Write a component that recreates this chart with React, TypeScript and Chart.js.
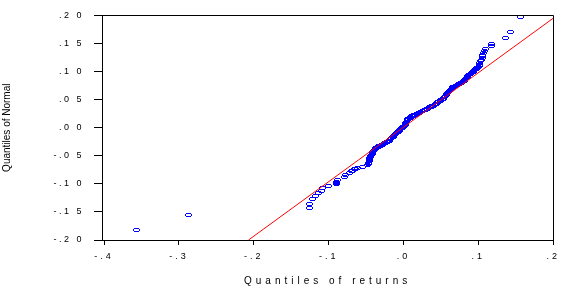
import React, { useEffect, useRef } from "react";
import { Chart, registerables } from "chart.js";
Chart.register(...registerables);

// Axis ticks
const xTickValues = [-0.4, -0.3, -0.2, -0.1, 0, 0.1, 0.2];
const xTickLabels = ["-.4", "-.3", "-.2", "-.1", ".0", ".1", ".2"];
const yTickValues = [-0.2, -0.15, -0.1, -0.05, 0, 0.05, 0.1, 0.15, 0.2];
const yTickLabels = ["-.2 0", "-.1 5", "-.1 0", "-.0 5", ".0 0", ".0 5", ".1 0", ".1 5", ".2 0"];

// Q-Q points: quantiles of returns (x) vs quantiles of normal (y)
const returnsQ = [
  // lower tail
  -0.356, -0.287, -0.126, -0.125, -0.121, -0.117, -0.114, -0.11, -0.108, -0.1,
  -0.089, -0.089, -0.089, -0.088, -0.079, -0.077, -0.072, -0.07, -0.068, -0.066,
  -0.064, -0.061, -0.055, -0.048,
  // steep lower section
  -0.048, -0.047, -0.047, -0.046, -0.046, -0.045, -0.045, -0.044, -0.044, -0.043,
  -0.042, -0.042, -0.041, -0.04, -0.039, -0.038, -0.037,
  // towards zero
  -0.036, -0.035, -0.034, -0.033, -0.032, -0.031, -0.03, -0.028, -0.027, -0.025,
  -0.024, -0.023, -0.022, -0.02, -0.019, -0.018, -0.017, -0.016, -0.015, -0.014,
  -0.013, -0.012, -0.011, -0.01, -0.009, -0.008, -0.007, -0.006, -0.005, -0.004,
  -0.003, -0.002, -0.001,
  // steep near zero
  0.001, 0.002, 0.002, 0.003, 0.004, 0.004, 0.005, 0.006, 0.006, 0.007,
  0.008, 0.009, 0.01,
  // middle
  0.011, 0.013, 0.014, 0.016, 0.017, 0.019, 0.02, 0.022, 0.023, 0.025,
  0.026, 0.028, 0.029, 0.031, 0.032, 0.034, 0.035, 0.037, 0.038, 0.04,
  0.041, 0.043, 0.044, 0.046, 0.047, 0.049, 0.05, 0.052, 0.053, 0.055, 0.056,
  // steeper
  0.057, 0.058, 0.059, 0.06, 0.061, 0.062, 0.063, 0.064, 0.065, 0.066,
  // flatter
  0.067, 0.069, 0.07, 0.072, 0.073, 0.075, 0.076, 0.078, 0.079, 0.081,
  // rising
  0.082, 0.083, 0.084, 0.085, 0.086, 0.087, 0.089, 0.09, 0.091, 0.093,
  0.094, 0.095, 0.097, 0.098, 0.1,
  // upper tail
  0.101, 0.101, 0.102, 0.103, 0.104, 0.105, 0.106, 0.106, 0.107, 0.108,
  0.109, 0.118, 0.118, 0.136, 0.143, 0.156,
];
const normalQ = [
  // lower tail
  -0.183, -0.156, -0.143, -0.135, -0.127, -0.121, -0.117, -0.112, -0.108, -0.104,
  -0.1, -0.098, -0.096, -0.093, -0.088, -0.084, -0.081, -0.078, -0.077, -0.074,
  -0.073, -0.072, -0.07, -0.067,
  // steep lower section
  -0.066, -0.064, -0.062, -0.06, -0.058, -0.056, -0.054, -0.052, -0.05, -0.048,
  -0.046, -0.045, -0.043, -0.041, -0.04, -0.038, -0.037,
  // towards zero
  -0.036, -0.035, -0.034, -0.033, -0.032, -0.032, -0.031, -0.03, -0.029, -0.028,
  -0.027, -0.026, -0.025, -0.024, -0.023, -0.021, -0.02, -0.018, -0.017, -0.016,
  -0.015, -0.013, -0.012, -0.01, -0.009, -0.008, -0.007, -0.005, -0.004, -0.002,
  -0.001, 0.0, 0.001,
  // steep near zero
  0.003, 0.005, 0.007, 0.008, 0.01, 0.011, 0.013, 0.014, 0.015, 0.016,
  0.017, 0.018, 0.019,
  // middle
  0.02, 0.021, 0.022, 0.023, 0.024, 0.025, 0.026, 0.027, 0.028, 0.029,
  0.03, 0.031, 0.032, 0.033, 0.034, 0.035, 0.036, 0.037, 0.038, 0.039,
  0.04, 0.042, 0.043, 0.045, 0.046, 0.048, 0.049, 0.051, 0.052, 0.054, 0.056,
  // steeper
  0.058, 0.06, 0.062, 0.063, 0.065, 0.066, 0.068, 0.069, 0.07, 0.072,
  // flatter
  0.073, 0.074, 0.075, 0.076, 0.077, 0.078, 0.079, 0.08, 0.081, 0.083,
  // rising
  0.085, 0.087, 0.089, 0.09, 0.092, 0.093, 0.095, 0.096, 0.098, 0.099,
  0.101, 0.102, 0.104, 0.106, 0.108,
  // upper tail
  0.11, 0.112, 0.115, 0.118, 0.121, 0.124, 0.127, 0.13, 0.133, 0.136,
  0.141, 0.145, 0.149, 0.159, 0.171, 0.198,
];

// Reference line end points
const refLineX = [-0.207, 0.2];
const refLineY = [-0.2, 0.195];

const FONT = '"Liberation Sans", Arial, sans-serif';

// pixel pattern of the hollow oval marker
const MARKER_ROWS = [
  ".XXXXX.",
  "X.....X",
  "X.....X",
  ".XXXXX.",
];

export default function App() {
  const ref = useRef<HTMLCanvasElement>(null);

  useEffect(() => {
    const canvas = ref.current;
    if (!canvas) return;

    const marker = document.createElement("canvas");
    marker.width = MARKER_ROWS[0].length;
    marker.height = MARKER_ROWS.length;
    const mctx = marker.getContext("2d")!;
    mctx.fillStyle = "#0000ff";
    MARKER_ROWS.forEach((row, r) => {
      for (let c = 0; c < row.length; c++) if (row[c] === "X") mctx.fillRect(c, r, 1, 1);
    });

    const spacingPlugin = {
      id: "spacing",
      beforeDraw(chart: any) {
        chart.ctx.imageSmoothingEnabled = false;
        const patch = (scale: any, labelSp: string, titleSp: string) => {
          if (!scale || scale.__patched) return;
          scale.__patched = true;
          const dl = scale.drawLabels.bind(scale);
          const dt = scale.drawTitle.bind(scale);
          scale.drawLabels = (area: any) => {
            const ctx = scale.ctx;
            const p = ctx.letterSpacing;
            ctx.letterSpacing = labelSp;
            dl(area);
            ctx.letterSpacing = p;
          };
          scale.drawTitle = (area: any) => {
            const ctx = scale.ctx;
            const p = ctx.letterSpacing;
            ctx.letterSpacing = titleSp;
            dt(area);
            ctx.letterSpacing = p;
          };
        };
        patch(chart.scales.x, "3px", "4px");
        patch(chart.scales.y, "2.5px", "0px");
      },
    };

    const framePlugin = {
      id: "frame",
      afterDraw(chart: any) {
        const { ctx, chartArea } = chart;
        const { left, right, top, bottom } = chartArea;
        ctx.save();
        ctx.strokeStyle = "#000";
        ctx.lineWidth = 1;
        ctx.beginPath();
        ctx.moveTo(Math.round(left) + 0.5, Math.round(top) + 0.5);
        ctx.lineTo(Math.round(right) + 0.5, Math.round(top) + 0.5);
        ctx.lineTo(Math.round(right) + 0.5, Math.round(bottom) + 0.5);
        ctx.stroke();
        ctx.restore();
      },
    };

    const chart = new Chart(canvas, {
      type: "scatter",
      data: {
        datasets: [
          {
            label: "line",
            data: refLineX.map((x, i) => ({ x, y: refLineY[i] })),
            showLine: true,
            borderColor: "#ff0000",
            borderWidth: 1,
            pointRadius: 0,
            fill: false,
          },
          {
            label: "qq",
            data: returnsQ.map((x, i) => ({ x, y: normalQ[i] })),
            pointStyle: marker as any,
            pointRadius: 3,
            borderColor: "#0000ff",
            backgroundColor: "#0000ff",
          },
        ],
      },
      options: {
        animation: false,
        responsive: true,
        maintainAspectRatio: false,
        events: [],
        layout: { padding: { top: 13, right: 8, left: 0, bottom: 0 } },
        plugins: { legend: { display: false }, tooltip: { enabled: false } },
        scales: {
          x: {
            type: "linear",
            min: -0.4027,
            max: 0.2,
            afterBuildTicks: (s: any) => {
              s.ticks = xTickValues.map((v) => ({ value: v }));
            },
            afterFit: (s: any) => {
              s.height = 49;
            },
            ticks: {
              autoSkip: false,
              maxRotation: 0,
              minRotation: 0,
              padding: 6,
              color: "#000",
              font: { family: FONT, size: 9 },
              callback: (_v: any, i: number) => xTickLabels[i],
            },
            grid: {
              drawOnChartArea: false,
              drawTicks: true,
              tickLength: 5,
              color: "#000",
              lineWidth: 1,
            },
            border: { display: true, color: "#000", width: 1 },
            title: {
              display: true,
              text: "Quantiles of returns",
              color: "#000",
              font: { family: FONT, size: 10 },
              padding: { top: 0, bottom: 2 },
            },
          },
          y: {
            type: "linear",
            min: -0.2,
            max: 0.2,
            afterBuildTicks: (s: any) => {
              s.ticks = yTickValues.map((v) => ({ value: v }));
            },
            afterFit: (s: any) => {
              s.width = 102;
            },
            ticks: {
              autoSkip: false,
              padding: 10,
              color: "#000",
              font: { family: FONT, size: 9 },
              callback: (_v: any, i: number) => yTickLabels[i],
            },
            grid: {
              drawOnChartArea: false,
              drawTicks: true,
              tickLength: 8,
              color: "#000",
              lineWidth: 1,
            },
            border: { display: true, color: "#000", width: 1 },
            title: {
              display: true,
              text: "Quantiles of Normal",
              color: "#000",
              font: { family: FONT, size: 10 },
              padding: { top: 1, bottom: 0 },
            },
          },
        },
      },
      plugins: [spacingPlugin, framePlugin],
    } as any);

    return () => chart.destroy();
  }, []);

  return (
    <div style={{ position: "absolute", left: 0, top: 0, width: 563, height: 289 }}>
      <canvas ref={ref} />
    </div>
  );
}
